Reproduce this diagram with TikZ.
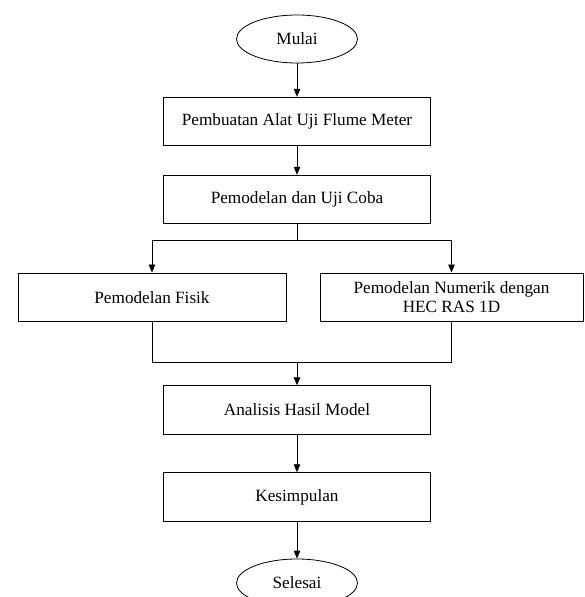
\documentclass[tikz,border=0pt]{standalone}
\usepackage{fontspec}
\setmainfont{Liberation Serif}
\usetikzlibrary{shapes.geometric,arrows.meta}
\begin{document}
\begin{tikzpicture}[x=1pt,y=-1pt,
  every node/.style={font=\fontsize{17.2}{19}\selectfont, line width=0.8pt},
  box/.style={draw, rectangle, minimum width=267pt, minimum height=48.6pt, inner sep=0pt, align=center},
  term/.style={draw, ellipse, minimum width=121pt, minimum height=48pt, inner sep=0pt},
  conn/.style={line width=0.8pt, -{Triangle[length=8pt,width=6.5pt]}},
  plain/.style={line width=0.8pt}]
\useasboundingbox (0,0) rectangle (584,597);
\node[term] (mulai) at (297,39) {Mulai};
\node[box] (b1) at (297,121.5) {Pembuatan Alat Uji Flume Meter};
\node[box] (b2) at (297,199.5) {Pemodelan dan Uji Coba};
\node[box, minimum width=268pt] (fisik) at (152,297.2) {Pemodelan Fisik};
\node[box, minimum width=263pt] (num) at (451.5,297.2) {Pemodelan Numerik dengan\\HEC RAS 1D};
\node[box] (anal) at (297,410) {Analisis Hasil Model};
\node[box] (kes) at (297,497) {Kesimpulan};
\node[term] (sel) at (297,583) {Selesai};
\coordinate (sp) at (297,240.7);
\coordinate (mg) at (297,362.7);
\draw[conn] (mulai.south) -- (b1.north);
\draw[conn] (b1.south) -- (b2.north);
\draw[plain] (b2.south) -- (sp);
\draw[conn] (sp) -| (fisik.north);
\draw[conn] (sp) -| (num.north);
\draw[plain] (fisik.south) |- (mg) -| (num.south);
\draw[conn] (mg) -- (anal.north);
\draw[conn] (anal.south) -- (kes.north);
\draw[conn] (kes.south) -- (sel.north);
\end{tikzpicture}
\end{document}
